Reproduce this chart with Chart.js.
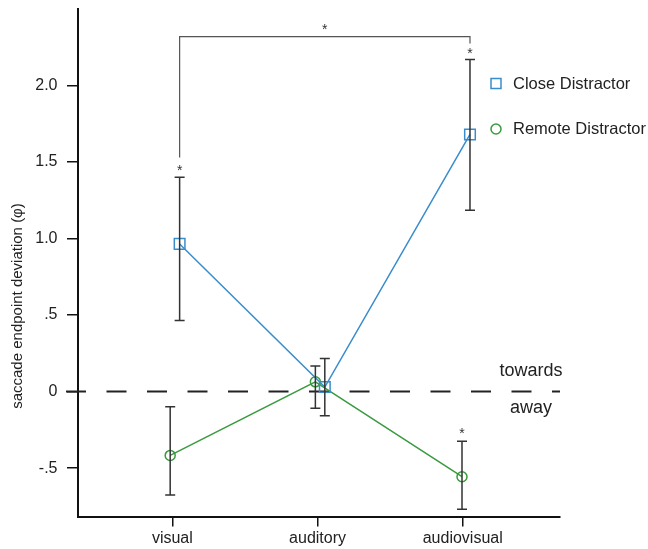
<!DOCTYPE html>
<html>
<head>
<meta charset="utf-8">
<script src="https://cdn.jsdelivr.net/npm/chart.js@4/dist/chart.umd.min.js"></script>
<style>
  html, body { margin: 0; padding: 0; background: #fff; }
  #wrap { width: 648px; height: 549px; }
</style>
</head>
<body>
<div id="wrap"><canvas id="chart" width="648" height="549"></canvas></div>
<script>
// ======= Data =======
const categories = ["visual", "auditory", "audiovisual"];
const closeX = [1.05, 2.05, 3.05];
const closeMean = [0.965, 0.03, 1.68];
const closeLow = [0.465, -0.158, 1.185];
const closeHigh = [1.40, 0.217, 2.17];
const remoteX = [0.985, 1.985, 2.995];
const remoteMean = [-0.417, 0.064, -0.556];
const remoteLow = [-0.676, -0.108, -0.769];
const remoteHigh = [-0.099, 0.168, -0.325];
const yTicks = [-0.5, 0, 0.5, 1.0, 1.5, 2.0];
const yTickLabels = ["-.5", "0", ".5", "1.0", "1.5", "2.0"];
// significance stars (data units) and bracket between visual and audiovisual
const stars = [[1.05, 1.47], [3.05, 2.235], [2.995, -0.25], [2.05, 2.39]];
const bracket = { x1: 1.05, x2: 3.05, y: 2.32, yLeft: 1.53, yRight: 2.275 };

const BLUE = "#3a8dcc";
const GREEN = "#3a9a3f";
const INK = "#222";
const FONT = "Arial, 'Liberation Sans', sans-serif";

// ======= Extras drawn on top =======
const extras = {
  id: "extras",
  beforeDatasetsDraw(chart) {
    const { ctx, scales: { y }, chartArea } = chart;
    // dashed zero line
    ctx.save();
    ctx.strokeStyle = INK;
    ctx.lineWidth = 2;
    ctx.setLineDash([20, 20.5]);
    ctx.beginPath();
    ctx.moveTo(chartArea.left - 12, y.getPixelForValue(0));
    ctx.lineTo(chartArea.right, y.getPixelForValue(0));
    ctx.stroke();
    ctx.restore();
  },
  afterDatasetsDraw(chart) {
    const { ctx, scales: { x, y } } = chart;
    ctx.save();

    // error bars
    function bars(xs, lo, hi) {
      ctx.strokeStyle = "#333";
      ctx.lineWidth = 1.5;
      xs.forEach((v, i) => {
        const px = x.getPixelForValue(v);
        const p1 = y.getPixelForValue(lo[i]);
        const p2 = y.getPixelForValue(hi[i]);
        ctx.beginPath();
        ctx.moveTo(px, p1); ctx.lineTo(px, p2);
        ctx.moveTo(px - 5, p1); ctx.lineTo(px + 5, p1);
        ctx.moveTo(px - 5, p2); ctx.lineTo(px + 5, p2);
        ctx.stroke();
      });
    }
    bars(closeX, closeLow, closeHigh);
    bars(remoteX, remoteLow, remoteHigh);

    // bracket
    ctx.strokeStyle = "#555";
    ctx.lineWidth = 1.2;
    ctx.beginPath();
    ctx.moveTo(x.getPixelForValue(bracket.x1), y.getPixelForValue(bracket.yLeft));
    ctx.lineTo(x.getPixelForValue(bracket.x1), y.getPixelForValue(bracket.y));
    ctx.lineTo(x.getPixelForValue(bracket.x2), y.getPixelForValue(bracket.y));
    ctx.lineTo(x.getPixelForValue(bracket.x2), y.getPixelForValue(bracket.yRight));
    ctx.stroke();

    // stars
    ctx.fillStyle = "#333";
    ctx.font = "14px " + FONT;
    ctx.textAlign = "center";
    ctx.textBaseline = "alphabetic";
    stars.forEach(s => {
      ctx.fillText("*", x.getPixelForValue(s[0]), y.getPixelForValue(s[1]) + 8);
    });

    // towards / away
    ctx.fillStyle = INK;
    ctx.font = "18px " + FONT;
    ctx.textBaseline = "middle";
    ctx.fillText("towards", 531, 371);
    ctx.fillText("away", 531, 408);

    // legend
    ctx.lineWidth = 1.5;
    ctx.strokeStyle = BLUE;
    ctx.strokeRect(491, 78.5, 10, 10);
    ctx.strokeStyle = GREEN;
    ctx.beginPath();
    ctx.arc(496, 129, 5, 0, Math.PI * 2);
    ctx.stroke();
    ctx.fillStyle = INK;
    ctx.font = "16.5px " + FONT;
    ctx.textAlign = "left";
    ctx.fillText("Close Distractor", 513, 84);
    ctx.fillText("Remote Distractor", 513, 129);

    // y axis title
    ctx.translate(18, 306);
    ctx.rotate(-Math.PI / 2);
    ctx.textAlign = "center";
    ctx.font = "15px " + FONT;
    ctx.fillText("saccade endpoint deviation (\u03C6)", 0, 0);
    ctx.restore();
  }
};

const axisBorder = { display: true, color: "#111", width: 2 };

new Chart(document.getElementById("chart").getContext("2d"), {
  type: "line",
  data: {
    datasets: [
      {
        label: "Close Distractor",
        data: closeX.map((v, i) => ({ x: v, y: closeMean[i] })),
        borderColor: BLUE,
        borderWidth: 1.5,
        pointStyle: "rect",
        pointRadius: 7.5,
        pointBorderWidth: 1.5,
        pointBorderColor: BLUE,
        pointBackgroundColor: "rgba(0,0,0,0)",
        fill: false,
        tension: 0
      },
      {
        label: "Remote Distractor",
        data: remoteX.map((v, i) => ({ x: v, y: remoteMean[i] })),
        borderColor: GREEN,
        borderWidth: 1.5,
        pointStyle: "circle",
        pointRadius: 5,
        pointBorderWidth: 1.5,
        pointBorderColor: GREEN,
        pointBackgroundColor: "rgba(0,0,0,0)",
        fill: false,
        tension: 0
      }
    ]
  },
  options: {
    responsive: false,
    animation: false,
    layout: { padding: { top: 9, right: 88, left: 0, bottom: 0 } },
    plugins: { legend: { display: false }, tooltip: { enabled: false } },
    scales: {
      x: {
        type: "linear",
        min: 0.35,
        max: 3.67,
        afterBuildTicks: s => { s.ticks = [1, 2, 3].map(v => ({ value: v })); },
        afterFit: s => { s.height = 32.5; s.paddingLeft = 0; s.paddingRight = 0; },
        grid: { display: true, drawOnChartArea: false, drawTicks: true, tickLength: 10, lineWidth: 1.5, color: "#111" },
        border: axisBorder,
        ticks: {
          callback: v => categories[v - 1],
          color: INK,
          font: { family: FONT, size: 16 },
          padding: 2,
          maxRotation: 0,
          autoSkip: false
        }
      },
      y: {
        type: "linear",
        min: -0.816,
        max: 2.5,
        afterBuildTicks: s => { s.ticks = yTicks.map(v => ({ value: v })); },
        afterFit: s => { s.width = 78; s.paddingTop = 0; s.paddingBottom = 0; },
        grid: { display: true, drawOnChartArea: false, drawTicks: true, tickLength: 11, lineWidth: 1.5, color: "#111" },
        border: axisBorder,
        ticks: {
          callback: v => yTickLabels[yTicks.indexOf(v)],
          color: INK,
          font: { family: FONT, size: 16 },
          padding: 9.5
        }
      }
    }
  },
  plugins: [extras]
});
</script>
</body>
</html>
